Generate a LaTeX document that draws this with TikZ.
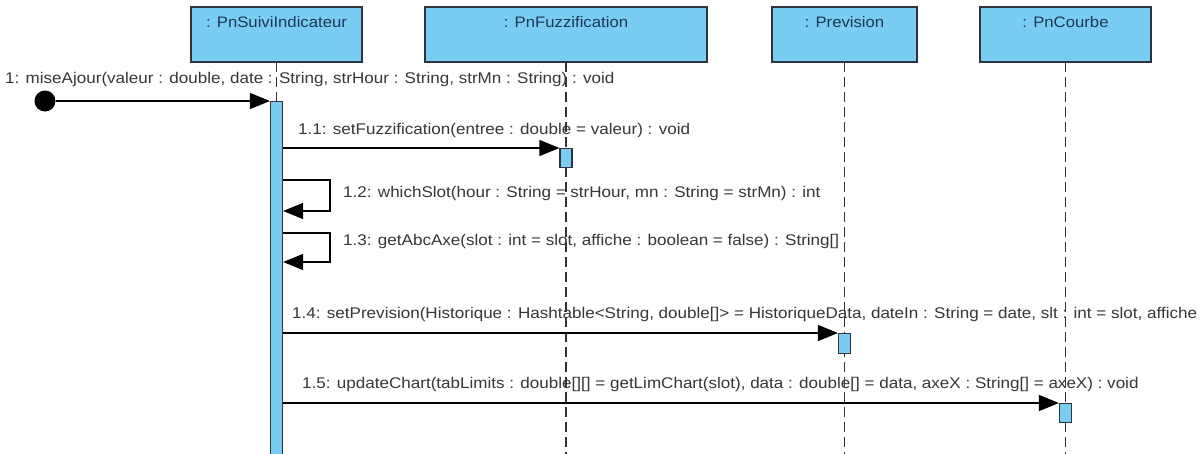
\documentclass[tikz,border=0pt]{standalone}
\usepackage{fontspec}
\setmainfont{Liberation Sans}[FakeStretch=1.10]
\usetikzlibrary{positioning,arrows.meta}
\definecolor{lifeblue}{RGB}{122,205,242}
\definecolor{edgegray}{RGB}{45,52,60}
\definecolor{labgray}{RGB}{55,55,55}
\definecolor{headtext}{RGB}{30,55,85}

\begin{document}
\begin{tikzpicture}[x=1pt, y=-1pt,
  head/.style={draw=edgegray, line width=1.6pt, fill=lifeblue, minimum height=55pt, inner sep=0pt, outer sep=0pt, text height=20pt, text depth=35pt, text=headtext, font=\fontsize{15.2}{18}\selectfont},
  lifeline/.style={draw=black!80, line width=1.2pt, dash pattern=on 10pt off 5pt},
  actbar/.style={draw=edgegray, line width=1.2pt, fill=lifeblue, minimum width=12pt, inner sep=0pt, anchor=north},
  startdot/.style={circle, fill=black, minimum size=21pt, inner sep=0pt},
  msg/.style={-{Triangle[length=20pt,width=16pt]}, line width=1.4pt, draw=black},
  lab/.style={anchor=base west, inner sep=0pt, text=labgray, font=\fontsize{15.5}{18}\selectfont}
]
\fill[white] (0,0) rectangle (1202,453);
\useasboundingbox (0,0) rectangle (1202,453);

% lifeline heads
\node[head, minimum width=171pt, anchor=north west] (h1) at (191,7) {: PnSuiviIndicateur};
\node[head, minimum width=282pt, right=63pt of h1] (h2) {: PnFuzzification};
\node[head, minimum width=145pt, right=65pt of h2] (h3) {: Prevision};
\node[head, minimum width=171pt, right=63pt of h3] (h4) {: PnCourbe};

% message labels
\node[lab] (m1) at (5,83) {1: miseAjour(valeur : double, date : String, strHour : String, strMn : String) : void};
\node[lab] (m11) at (298,134) {1.1: setFuzzification(entree : double = valeur) : void};
\node[lab] (m12) at (343,197) {1.2: whichSlot(hour : String = strHour, mn : String = strMn) : int};
\node[lab] (m13) at (343,245) {1.3: getAbcAxe(slot : int = slot, affiche : boolean = false) : String[]};
\node[lab] (m14) at (292,318) {1.4: setPrevision(Historique : Hashtable<String, double[]> = HistoriqueData, dateIn : String = date, slt : int = slot, affiche};
\node[lab] (m15) at (302,388) {1.5: updateChart(tabLimits : double[][] = getLimChart(slot), data : double[] = data, axeX : String[] = axeX) : void};

% lifelines
\foreach \h in {h1,h2,h3,h4} {
  \coordinate (\h end) at (\h.south |- 0,470);
  \draw[lifeline] (\h.south) -- (\h end);
}

% activations
\node[actbar, minimum height=370pt] (a0) at (h1.south |- 0,101) {};
\node[actbar, minimum height=19pt] (a11) at (h2.south |- 0,148) {};
\node[actbar, minimum height=20pt] (a14) at (h3.south |- 0,333) {};
\node[actbar, minimum height=19pt] (a15) at (h4.south |- 0,403) {};

% messages
\node[startdot] (s0) at (45,101) {};
\draw[msg] (s0) -- (s0 -| a0.west);
\draw[msg] (a0.east |- a11.north) -- (a11.north west);
\coordinate (c12) at (330,180);
\coordinate (d12) at (330,211);
\draw[msg] (a0.east |- c12) -- (c12) -- (d12) -- (a0.east |- d12);
\coordinate (c13) at (330,233);
\coordinate (d13) at (330,262);
\draw[msg] (a0.east |- c13) -- (c13) -- (d13) -- (a0.east |- d13);
\draw[msg] (a0.east |- a14.north) -- (a14.north west);
\draw[msg] (a0.east |- a15.north) -- (a15.north west);
\end{tikzpicture}
\end{document}
